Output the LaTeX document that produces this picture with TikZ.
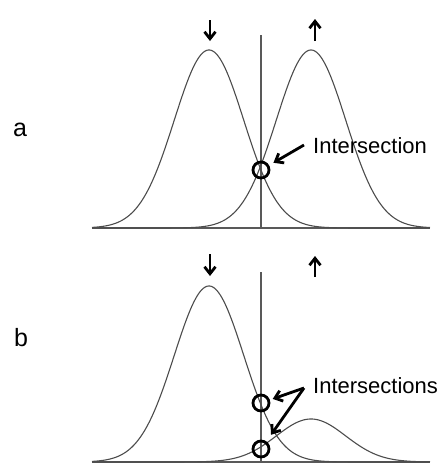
\documentclass[tikz,border=0pt]{standalone}
\usepackage{fontspec}
\setmainfont{Liberation Sans}
\usetikzlibrary{arrows.meta}
\begin{document}
\begin{tikzpicture}[x=1pt,y=-1pt,
  curve/.style={draw=black!70, line width=1.1pt},
  axisline/.style={draw=black!65, line width=1.1pt},
  markcirc/.style={circle, draw=black, line width=2.8pt, minimum size=16pt, inner sep=0pt},
  ptr/.style={line width=2.8pt, -{Straight Barb[length=7pt,width=11pt]}},
  lbl/.style={font=\fontsize{25}{30}\selectfont, inner sep=0pt},
  txt/.style={font=\fontsize{22}{26}\selectfont, inner sep=0pt, anchor=west},
]
\useasboundingbox (0,0) rectangle (440,464);

% ---------- panel a ----------
\node[lbl] (la) at (20,130) {a};
\coordinate (aL) at (92,228);
\coordinate (aR) at (430,228);
\coordinate (aTop) at (261,35);
\coordinate (aBot) at (261,228);
\draw[axisline] (aL) -- (aR);
\draw[axisline] (aTop) -- (aBot);
\draw[curve] plot[domain=92:430, samples=220] (\x, {228-178*exp(-0.5*((\x-209)/34.7)^2)});
\draw[curve] plot[domain=92:430, samples=220] (\x, {228-178*exp(-0.5*((\x-311)/34.7)^2)});
\coordinate (adS) at (210,20);
\coordinate (adE) at (210,41);
\draw[ptr] (adS) -- (adE);
\coordinate (auS) at (315,41);
\coordinate (auE) at (315,19);
\draw[ptr] (auS) -- (auE);
\node[markcirc] (ca) at (261,170) {};
\node[txt] (ta) at (313,146) {Intersection};
\coordinate (sa) at (304,145);
\draw[ptr, shorten >=5pt] (sa) -- (ca);

% ---------- panel b ----------
\node[lbl] (lb) at (21,338) {b};
\coordinate (bL) at (92,462);
\coordinate (bR) at (430,462);
\coordinate (bTop) at (261,272);
\coordinate (bBot) at (261,462);
\draw[axisline] (bL) -- (bR);
\draw[axisline] (bTop) -- (bBot);
\draw[curve] plot[domain=92:430, samples=220] (\x, {462-176*exp(-0.5*((\x-209)/34.7)^2)});
\draw[curve] plot[domain=92:430, samples=220] (\x, {462-43*exp(-0.5*((\x-311)/34.7)^2)});
\coordinate (bdS) at (210,254);
\coordinate (bdE) at (210,276);
\draw[ptr] (bdS) -- (bdE);
\coordinate (buS) at (315,277);
\coordinate (buE) at (315,256);
\draw[ptr] (buS) -- (buE);
\node[markcirc] (cb1) at (261,403) {};
\node[markcirc] (cb2) at (261,449) {};
\node[txt] (tb) at (313,386) {Intersections};
\coordinate (sb) at (304,388);
\draw[ptr, shorten >=3pt] (sb) -- (cb1);
\draw[ptr, shorten >=8pt] (sb) -- (cb2);
\end{tikzpicture}
\end{document}
